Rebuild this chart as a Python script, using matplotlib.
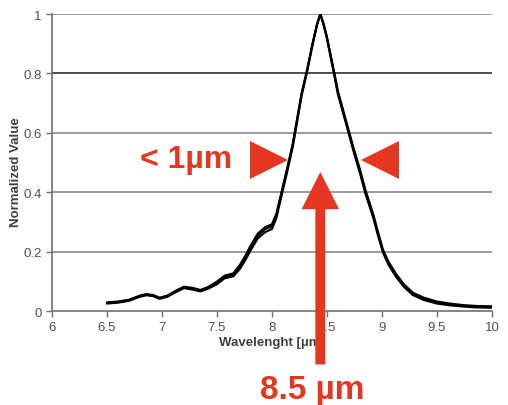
import numpy as np
import matplotlib.pyplot as plt

plt.rcParams['font.family'] = ['Liberation Sans', 'DejaVu Sans']

wavelength = [6.5, 6.6, 6.7, 6.8, 6.86, 6.92, 6.98, 7.05, 7.12, 7.2,
              7.28, 7.35, 7.42, 7.5, 7.57, 7.65, 7.71, 7.76, 7.8, 7.87,
              7.94, 8.0, 8.04, 8.09, 8.14, 8.19, 8.23, 8.27, 8.32, 8.37,
              8.41, 8.44, 8.47, 8.5, 8.56, 8.6, 8.67, 8.74, 8.8, 8.85,
              8.92, 8.96, 9.01, 9.06, 9.13, 9.2, 9.28, 9.38, 9.5, 9.62,
              9.74, 9.86, 10.0]
spec_a = [0.027, 0.030, 0.036, 0.050, 0.055, 0.052, 0.043, 0.050, 0.065, 0.080,
          0.075, 0.068, 0.078, 0.095, 0.115, 0.122, 0.150, 0.180, 0.209, 0.253,
          0.276, 0.285, 0.320, 0.400, 0.478, 0.560, 0.645, 0.730, 0.810, 0.900,
          0.965, 1.000, 0.965, 0.920, 0.810, 0.735, 0.640, 0.545, 0.470, 0.400,
          0.320, 0.265, 0.200, 0.160, 0.118, 0.085, 0.057, 0.040, 0.028, 0.021,
          0.017, 0.014, 0.013]
spec_b = [0.025, 0.028, 0.034, 0.048, 0.053, 0.050, 0.041, 0.048, 0.062, 0.077,
          0.072, 0.066, 0.075, 0.090, 0.110, 0.117, 0.142, 0.172, 0.200, 0.244,
          0.266, 0.276, 0.312, 0.392, 0.470, 0.553, 0.638, 0.725, 0.806, 0.897,
          0.963, 1.000, 0.967, 0.923, 0.815, 0.741, 0.646, 0.552, 0.477, 0.408,
          0.327, 0.272, 0.206, 0.166, 0.124, 0.090, 0.062, 0.045, 0.032, 0.025,
          0.020, 0.017, 0.016]
spec_c = [0.029, 0.032, 0.038, 0.052, 0.057, 0.054, 0.045, 0.052, 0.067, 0.082,
          0.078, 0.071, 0.081, 0.099, 0.119, 0.127, 0.156, 0.187, 0.216, 0.260,
          0.283, 0.292, 0.327, 0.405, 0.483, 0.565, 0.650, 0.734, 0.813, 0.902,
          0.966, 1.000, 0.963, 0.918, 0.806, 0.729, 0.636, 0.540, 0.464, 0.395,
          0.315, 0.259, 0.196, 0.155, 0.114, 0.081, 0.054, 0.037, 0.025, 0.019,
          0.015, 0.012, 0.011]

x_ticks = [6, 6.5, 7, 7.5, 8, 8.5, 9, 9.5, 10]
x_tick_labels = ['6', '6.5', '7', '7.5', '8', '8.5', '9', '9.5', '10']
y_ticks = [0, 0.2, 0.4, 0.6, 0.8, 1]
y_tick_labels = ['0', '0.2', '0.4', '0.6', '0.8', '1']

peak = 8.44          # centre wavelength
fwhm_left = 7.97     # left marker
fwhm_right = 8.98    # right marker
fwhm_level = 0.51

red = '#e5361f'

fig = plt.figure(figsize=(5.08, 4.06), dpi=100)
ax = fig.add_axes([0.102, 0.2315, 0.8665, 0.7315])

for yv in y_ticks[1:]:
    ax.axhline(yv, color='#303030' if yv == 0.8 else '#8a8a8a', lw=1.2, zorder=1)

for s in (spec_a, spec_b, spec_c):
    ax.plot(wavelength, s, color='black', lw=1.5, zorder=3,
            solid_joinstyle='round', solid_capstyle='round')

ax.set_xlim(6, 10)
ax.set_ylim(0, 1)
ax.set_xticks(x_ticks)
ax.set_xticklabels(x_tick_labels)
ax.set_yticks(y_ticks)
ax.set_yticklabels(y_tick_labels)
ax.tick_params(colors='#707070', labelcolor='#505050', labelsize=9.5,
               length=4, width=1, direction='out')
for side in ('top', 'right'):
    ax.spines[side].set_visible(False)
for side in ('left', 'bottom'):
    ax.spines[side].set_color('#707070')
    ax.spines[side].set_linewidth(1.2)

ax.set_xlabel('Wavelenght [µm]', fontsize=9.5, fontweight='bold',
              color='#404040', labelpad=2)
ax.set_ylabel('Normalized Value', fontsize=9.5, fontweight='bold',
              color='#404040', labelpad=4)
ax.yaxis.set_label_coords(-0.067, 0.47)

# annotations
ax.plot([fwhm_left], [fwhm_level], marker='>', ms=27, color=red,
        markeredgewidth=0, zorder=5)
ax.plot([fwhm_right], [fwhm_level], marker='<', ms=27, color=red,
        markeredgewidth=0, zorder=5)
ax.text(7.22, 0.512, '< 1µm', color=red, fontsize=23, fontweight='bold',
        ha='center', va='center', zorder=5)
ax.arrow(peak, -0.18, 0, 0.648, width=0.09, head_width=0.34,
         head_length=0.125, length_includes_head=True, color=red,
         lw=0, clip_on=False, zorder=6)
ax.text(8.37, -0.263, '8.5 µm', color=red, fontsize=24, fontweight='bold',
        ha='center', va='center', zorder=6, clip_on=False)

fig.savefig('out.png', dpi=100)
